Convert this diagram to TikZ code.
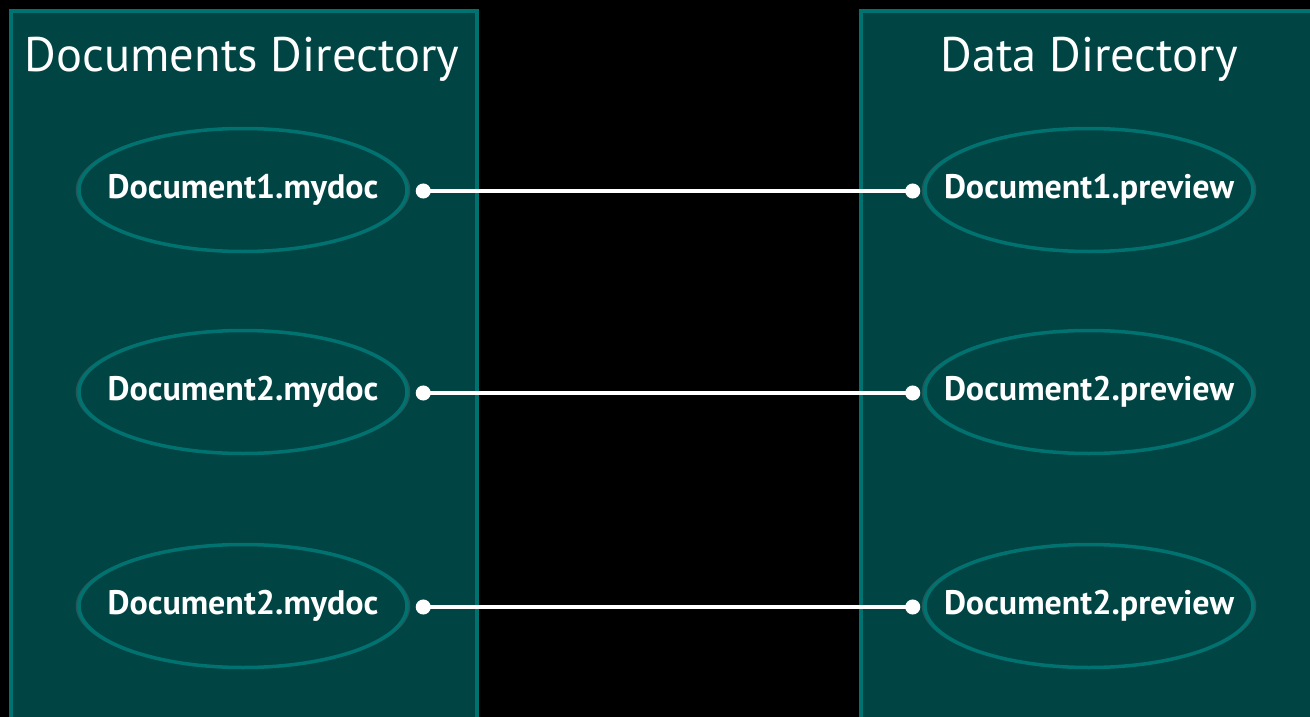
\documentclass[tikz,border=0pt]{standalone}
\usepackage{fontspec}
\setmainfont{PT Sans}
\usetikzlibrary{shapes.geometric,arrows.meta,shadows}

\definecolor{paneFill}{RGB}{0,68,68}
\definecolor{paneLine}{RGB}{0,114,112}

% keep the file name from widening its ellipse
\newcommand{\fname}[1]{\makebox[0pt]{#1}}

\tikzset{
    pane/.style={fill=paneFill, draw=paneLine, line width=4pt},
    title/.style={text=white, font=\fontsize{48.5}{58}\selectfont},
    fileNode/.style={ellipse, fill=paneFill, draw=paneLine, line width=3.5pt,
        minimum width=328pt, minimum height=123pt, inner sep=0pt,
        text=white, font=\bfseries\fontsize{34}{40}\selectfont,
        drop shadow={opacity=0.3, shadow xshift=0pt, shadow yshift=0pt, shadow scale=1.02}},
    link/.style={draw=white, line width=3.5pt, {Circle[length=15pt]}-{Circle[length=15pt]}}
}

\begin{document}
\begin{tikzpicture}[x=1pt, y=-1pt]
    \useasboundingbox (0,0) rectangle (1310,717);
    \fill[black] (0,0) rectangle (1310,717);

    % the two folders
    \draw[pane] (11,11) rectangle (476.5,740);
    \draw[pane] (861,11) rectangle (1340,740);
    \node[title] (docsTitle) at (242,59) {Documents Directory};
    \node[title] (dataTitle) at (1089,59) {Data Directory};

    % files on the left
    \node[fileNode] (doc1) at (243,190) {\fname{Document1.mydoc}};
    \node[fileNode] (doc2) at (243,392) {\fname{Document2.mydoc}};
    \node[fileNode] (doc3) at (243,606) {\fname{Document2.mydoc}};

    % previews on the right
    \node[fileNode] (prev1) at (1089,190) {\fname{Document1.preview}};
    \node[fileNode] (prev2) at (1089,392) {\fname{Document2.preview}};
    \node[fileNode] (prev3) at (1089,606) {\fname{Document2.preview}};

    \draw[link] ([xshift=7pt,yshift=-1pt]doc1.east) -- ([xshift=-3pt,yshift=-1pt]prev1.west);
    \draw[link] ([xshift=7pt,yshift=-1pt]doc2.east) -- ([xshift=-3pt,yshift=-1pt]prev2.west);
    \draw[link] ([xshift=7pt,yshift=-1pt]doc3.east) -- ([xshift=-3pt,yshift=-1pt]prev3.west);
\end{tikzpicture}
\end{document}
